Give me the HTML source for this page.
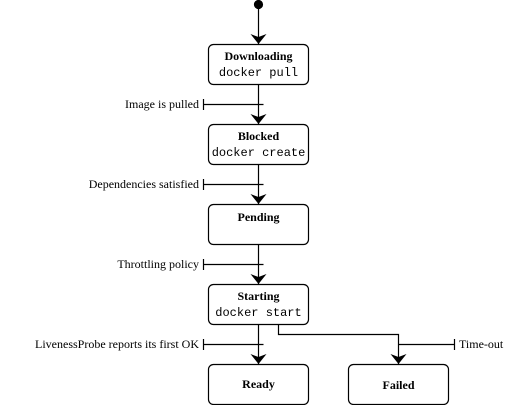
<!DOCTYPE html>
<html><head><style>body{margin:0;background:#fff}</style></head><body>
<svg width="512" height="405" viewBox="0 0 512 405" xmlns="http://www.w3.org/2000/svg" font-family="Liberation Serif, serif" font-size="12">
<defs><marker id="a" viewBox="0 0 10 16" refX="10" refY="8" markerWidth="10" markerHeight="16" markerUnits="userSpaceOnUse" orient="auto"><path d="M0,0 L10,8 L0,16 L3,8 Z" fill="#000"/></marker></defs>
<g stroke="#000" stroke-width="1.2" fill="none">
<circle cx="258.5" cy="4.5" r="4" fill="#000"/>
<line x1="258.5" y1="8" x2="258.5" y2="44" marker-end="url(#a)"/>
<line x1="258.5" y1="84" x2="258.5" y2="124" marker-end="url(#a)"/>
<line x1="258.5" y1="164" x2="258.5" y2="204" marker-end="url(#a)"/>
<line x1="258.5" y1="244" x2="258.5" y2="284" marker-end="url(#a)"/>
<line x1="258.5" y1="324" x2="258.5" y2="364" marker-end="url(#a)"/>
<polyline points="278.5,324 278.5,334.5 398.5,334.5 398.5,364" marker-end="url(#a)"/>
<rect x="208.5" y="44.5" width="100" height="40" rx="5"/>
<rect x="208.5" y="124.5" width="100" height="40" rx="5"/>
<rect x="208.5" y="204.5" width="100" height="40" rx="5"/>
<rect x="208.5" y="284.5" width="100" height="40" rx="5"/>
<rect x="208.5" y="364.5" width="100" height="40" rx="5"/>
<rect x="348.5" y="364.5" width="100" height="40" rx="5"/>
<path d="M203.5,104.5H263.5M203.5,99V110M203.5,184.5H263.5M203.5,179V190M203.5,264.5H263.5M203.5,259V270M203.5,344.5H263.5M203.5,339V350M398.5,344.5H454.5M454.5,339V350"/>
</g>
<g text-anchor="middle">
<text x="258.5" y="60" font-weight="bold">Downloading</text>
<text x="258.5" y="76" font-family="Liberation Mono, monospace">docker pull</text>
<text x="258.5" y="140" font-weight="bold">Blocked</text>
<text x="258.5" y="156" font-family="Liberation Mono, monospace">docker create</text>
<text x="258.5" y="221" font-weight="bold">Pending</text>
<text x="258.5" y="300" font-weight="bold">Starting</text>
<text x="258.5" y="316" font-family="Liberation Mono, monospace">docker start</text>
<text x="258.5" y="388" font-weight="bold">Ready</text>
<text x="398.5" y="389" font-weight="bold">Failed</text>
</g>
<g text-anchor="end">
<text x="199" y="108">Image is pulled</text>
<text x="199" y="188">Dependencies satisfied</text>
<text x="199" y="268">Throttling policy</text>
<text x="199" y="348">LivenessProbe reports its first OK</text>
</g>
<text x="459" y="348">Time-out</text>
</svg>
</body></html>
